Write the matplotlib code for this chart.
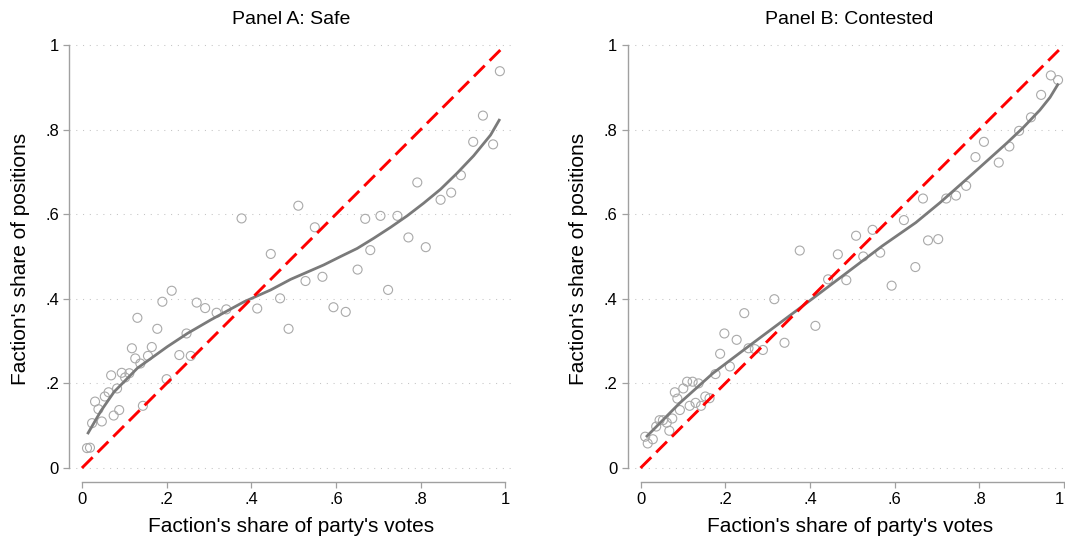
import matplotlib
matplotlib.use("Agg")
import matplotlib.pyplot as plt
import matplotlib.transforms as mtransforms

plt.rcParams['font.family'] = ['Liberation Sans', 'DejaVu Sans']

# ---------------- Panel A: Safe ----------------
safe_x = [0.012, 0.019, 0.024, 0.031, 0.039, 0.047, 0.054, 0.063, 0.069, 0.075,
          0.083, 0.088, 0.094, 0.102, 0.112, 0.118, 0.126, 0.131, 0.138, 0.144,
          0.156, 0.165, 0.178, 0.190, 0.200, 0.212, 0.230, 0.247, 0.257, 0.271,
          0.291, 0.318, 0.341, 0.377, 0.414, 0.446, 0.468, 0.488, 0.511, 0.528,
          0.550, 0.568, 0.594, 0.623, 0.651, 0.669, 0.681, 0.705, 0.723, 0.745,
          0.771, 0.792, 0.812, 0.847, 0.872, 0.895, 0.924, 0.947, 0.971, 0.987]
safe_y = [0.047, 0.048, 0.106, 0.157, 0.139, 0.110, 0.169, 0.179, 0.219, 0.124,
          0.188, 0.137, 0.225, 0.214, 0.224, 0.283, 0.259, 0.355, 0.247, 0.147,
          0.265, 0.286, 0.329, 0.393, 0.210, 0.419, 0.267, 0.318, 0.265, 0.391,
          0.378, 0.367, 0.375, 0.590, 0.377, 0.506, 0.401, 0.329, 0.620, 0.442,
          0.569, 0.452, 0.380, 0.369, 0.469, 0.589, 0.515, 0.596, 0.421, 0.596,
          0.545, 0.675, 0.522, 0.634, 0.651, 0.692, 0.771, 0.833, 0.765, 0.938]
safe_fit_x = [0.013, 0.045, 0.076, 0.131, 0.202, 0.249, 0.304, 0.383, 0.446, 0.493,
              0.532, 0.571, 0.611, 0.650, 0.689, 0.729, 0.768, 0.807, 0.847, 0.886,
              0.925, 0.965, 0.987]
safe_fit_y = [0.080, 0.135, 0.180, 0.236, 0.287, 0.318, 0.350, 0.393, 0.421, 0.446,
              0.463, 0.480, 0.500, 0.519, 0.543, 0.569, 0.596, 0.626, 0.659, 0.697,
              0.738, 0.787, 0.825]

# ---------------- Panel B: Contested ----------------
cont_x = [0.011, 0.017, 0.029, 0.037, 0.045, 0.053, 0.062, 0.068, 0.075, 0.081,
          0.087, 0.093, 0.101, 0.110, 0.116, 0.123, 0.130, 0.137, 0.143, 0.153,
          0.163, 0.177, 0.188, 0.198, 0.211, 0.227, 0.245, 0.255, 0.270, 0.289,
          0.316, 0.340, 0.376, 0.413, 0.443, 0.466, 0.486, 0.509, 0.526, 0.548,
          0.566, 0.593, 0.622, 0.649, 0.667, 0.679, 0.703, 0.722, 0.745, 0.769,
          0.791, 0.811, 0.846, 0.871, 0.894, 0.922, 0.946, 0.969, 0.986]
cont_y = [0.074, 0.058, 0.068, 0.098, 0.113, 0.113, 0.107, 0.088, 0.117, 0.179,
          0.164, 0.137, 0.188, 0.204, 0.147, 0.204, 0.154, 0.200, 0.147, 0.169,
          0.165, 0.222, 0.270, 0.318, 0.240, 0.303, 0.366, 0.283, 0.281, 0.279,
          0.399, 0.296, 0.514, 0.336, 0.446, 0.505, 0.444, 0.549, 0.500, 0.563,
          0.509, 0.431, 0.586, 0.475, 0.637, 0.538, 0.541, 0.637, 0.644, 0.667,
          0.735, 0.771, 0.722, 0.760, 0.797, 0.829, 0.882, 0.928, 0.917]
cont_fit_x = [0.013, 0.092, 0.171, 0.249, 0.328, 0.407, 0.493, 0.571, 0.650, 0.707,
              0.786, 0.865, 0.904, 0.943, 0.967, 0.987]
cont_fit_y = [0.073, 0.153, 0.224, 0.283, 0.342, 0.401, 0.466, 0.525, 0.580, 0.627,
              0.697, 0.768, 0.805, 0.846, 0.876, 0.909]

diag_x = [0.0, 0.988]

panels = [
    ("Panel A: Safe", safe_x, safe_y, safe_fit_x, safe_fit_y),
    ("Panel B: Contested", cont_x, cont_y, cont_fit_x, cont_fit_y),
]

ticks = [0, 0.2, 0.4, 0.6, 0.8, 1]
tick_labels = ["0", ".2", ".4", ".6", ".8", "1"]

W, H = 1065, 540
fig = plt.figure(figsize=(W / 100, H / 100), dpi=100)

ax_w = (512.7 - 69.3) / W
ax_b = (H - 481.7) / H
ax_h = (481.7 - 36.5) / H
lefts = [69.3 / W, 627.9 / W]

axis_col = "#a0a0a0"

axes = []
for (title, xs, ys, fx, fy), left in zip(panels, lefts):
    ax = fig.add_axes([left, ax_b, ax_w, ax_h])
    axes.append(ax)
    ax.set_xlim(-0.0298, 1.0173)
    ax.set_ylim(-0.0324, 1.020)
    for y in ticks:
        ax.axhline(y, color="#c4c4c4", lw=0.75, linestyle=(0, (1, 5.5)), zorder=0)
    ax.scatter(xs, ys, s=42, facecolors="none", edgecolors="#a9a9a9",
               linewidths=0.8, zorder=2)
    ax.plot(fx, fy, color="#7a7a7a", lw=2.0, zorder=3, solid_capstyle="butt",
            solid_joinstyle="round")
    ax.plot(diag_x, diag_x, color="#ff0000", lw=2.1, linestyle=(0, (5.2, 2.4)),
            zorder=4)
    for s in ("top", "right"):
        ax.spines[s].set_visible(False)
    for s in ("left", "bottom"):
        ax.spines[s].set_color(axis_col)
        ax.spines[s].set_linewidth(1.0)
        ax.spines[s].set_bounds(0, 1)
    ax.set_xticks(ticks)
    ax.set_xticklabels(tick_labels)
    ax.set_yticks(ticks)
    ax.set_yticklabels(tick_labels)
    ax.tick_params(axis="both", direction="out", length=4.5, width=0.9,
                   color=axis_col, labelsize=12, labelcolor="black", pad=3)
    ax.set_xlabel("Faction's share of party's votes", fontsize=15, labelpad=7)
    ax.set_ylabel("Faction's share of positions", fontsize=15, labelpad=11)
    ax.set_title(title, fontsize=14, pad=9)

# keep the last tick label of panel B inside the picture
last = axes[1].get_xticklabels()[-1]
last.set_transform(last.get_transform() +
                   mtransforms.ScaledTranslation(-5 / 100, 0, fig.dpi_scale_trans))

fig.savefig("out.png", dpi=100)
